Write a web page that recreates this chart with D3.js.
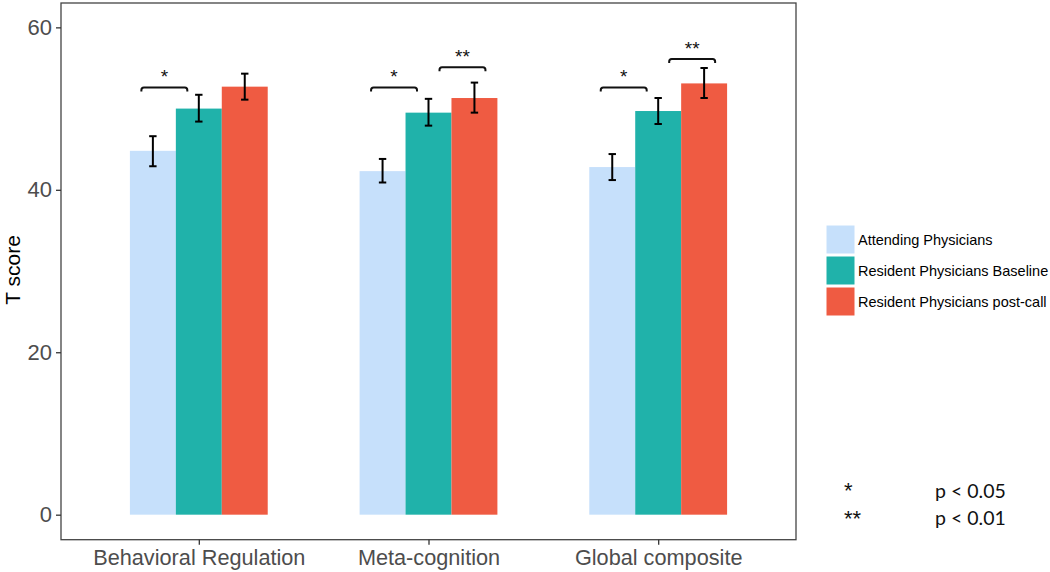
<!DOCTYPE html>
<html><head><meta charset="utf-8">
<script src="https://cdn.jsdelivr.net/npm/d3@7"></script>
<style>body{margin:0;background:#fff;} svg{display:block;}</style>
</head><body>
<svg id="chart" width="1050" height="572"></svg>
<script>
const categories = ["Behavioral Regulation", "Meta-cognition", "Global composite"];
const groups = ["Attending Physicians", "Resident Physicians Baseline", "Resident Physicians post-call"];
const colors = ["#C6E0FB", "#20B2AA", "#EF5B42"];

const attending   = [44.8, 42.3, 42.8];
const attendingLo = [42.9, 40.9, 41.2];
const attendingHi = [46.6, 43.8, 44.4];
const baseline    = [50.0, 49.5, 49.7];
const baselineLo  = [48.4, 47.9, 48.1];
const baselineHi  = [51.7, 51.2, 51.3];
const postcall    = [52.7, 51.3, 53.1];
const postcallLo  = [51.1, 49.5, 51.3];
const postcallHi  = [54.3, 53.2, 55.0];

const yTicks = [0, 20, 40, 60];

// significance brackets
const sigCategory = [0, 1, 1, 2, 2];
const sigFrom     = [0, 0, 1, 0, 1];
const sigTo       = [1, 1, 2, 1, 2];
const sigY        = [52.6, 52.6, 55.1, 52.6, 56.1];
const sigLabel    = ["*", "*", "**", "*", "**"];

const noteSymbols = ["*", "**"];
const noteTexts = ["p < 0.05", "p < 0.01"];

const seriesVals = [attending, baseline, postcall];
const seriesLo = [attendingLo, baselineLo, postcallLo];
const seriesHi = [attendingHi, baselineHi, postcallHi];

const svg = d3.select("#chart");
const L = 61, R = 796, T = 3, B = 539.7;

const x = d3.scalePoint().domain(categories).range([L, R]).padding(0.6);
const step = x.step();
const dodge = d3.scaleBand().domain(groups).range([-step * 0.3, step * 0.3]);
const y = d3.scaleLinear().domain([-3.08, 63.0]).range([B, T]);

// bars
const rows = [];
categories.forEach((c, i) => groups.forEach((g, j) => rows.push({
  c, g, j, v: seriesVals[j][i], lo: seriesLo[j][i], hi: seriesHi[j][i]
})));

svg.append("g").selectAll("rect").data(rows).join("rect")
  .attr("x", d => x(d.c) + dodge(d.g))
  .attr("width", dodge.bandwidth())
  .attr("y", d => y(d.v))
  .attr("height", d => y(0) - y(d.v))
  .attr("fill", d => colors[d.j]);

// error bars
const eb = svg.append("g").attr("stroke", "#000").attr("stroke-width", 2).attr("fill", "none");
rows.forEach(d => {
  const cx = x(d.c) + dodge(d.g) + dodge.bandwidth() / 2;
  const cw = 3.7;
  eb.append("line").attr("x1", cx).attr("x2", cx).attr("y1", y(d.lo)).attr("y2", y(d.hi));
  eb.append("line").attr("x1", cx - cw).attr("x2", cx + cw).attr("y1", y(d.lo)).attr("y2", y(d.lo));
  eb.append("line").attr("x1", cx - cw).attr("x2", cx + cw).attr("y1", y(d.hi)).attr("y2", y(d.hi));
});

// significance brackets
const sg = svg.append("g");
sigLabel.forEach((lab, k) => {
  const c = categories[sigCategory[k]];
  const shift = sigFrom[k] === 0 ? -11.5 : 11;
  const x1 = x(c) + dodge(groups[sigFrom[k]]) + dodge.bandwidth() / 2 + shift;
  const x2 = x(c) + dodge(groups[sigTo[k]]) + dodge.bandwidth() / 2 + shift;
  const yy = y(sigY[k]);
  const r = 2.5;
  sg.append("path")
    .attr("d", `M${x1},${yy + 4} L${x1},${yy + r} Q${x1},${yy} ${x1 + r},${yy} L${x2 - r},${yy} Q${x2},${yy} ${x2},${yy + r} L${x2},${yy + 4}`)
    .attr("fill", "none").attr("stroke", "#111").attr("stroke-width", 2);
  sg.append("text").attr("x", (x1 + x2) / 2).attr("y", yy - 4)
    .attr("text-anchor", "middle")
    .style("font-family", "Liberation Sans, Arial, sans-serif").style("font-size", "19px")
    .attr("fill", "#111").text(lab);
});

// panel border
svg.append("rect").attr("x", L).attr("y", T).attr("width", R - L).attr("height", B - T)
  .attr("fill", "none").attr("stroke", "#444").attr("stroke-width", 1.3);

// axes
const yAxis = svg.append("g").attr("transform", `translate(${L},0)`)
  .call(d3.axisLeft(y).tickValues(yTicks).tickSize(5).tickPadding(4));
yAxis.select(".domain").remove();
yAxis.selectAll(".tick line").attr("stroke", "#333").attr("stroke-width", 1.3);
yAxis.selectAll("text").attr("fill", "#4D4D4D")
  .style("font-family", "Liberation Sans, Arial, sans-serif").style("font-size", "22px");

const xAxis = svg.append("g").attr("transform", `translate(0,${B})`)
  .call(d3.axisBottom(x).tickSize(5).tickPadding(5));
xAxis.select(".domain").remove();
xAxis.selectAll(".tick line").attr("stroke", "#333").attr("stroke-width", 1.3);
xAxis.selectAll("text").attr("fill", "#4D4D4D")
  .style("font-family", "Liberation Sans, Arial, sans-serif").style("font-size", "21.7px");

// y title
svg.append("text").attr("transform", "translate(20,270) rotate(-90)")
  .attr("text-anchor", "middle")
  .style("font-family", "Liberation Sans, Arial, sans-serif").style("font-size", "21px")
  .attr("fill", "#000").text("T score");

// legend
const lg = svg.append("g").attr("transform", "translate(826,225)");
groups.forEach((g, j) => {
  lg.append("rect").attr("x", 0).attr("y", j * 31).attr("width", 29).attr("height", 29)
    .attr("fill", colors[j]).attr("stroke", "#fff").attr("stroke-width", 1);
  lg.append("text").attr("x", 32).attr("y", j * 31 + 14.5).attr("dy", "0.35em")
    .style("font-family", "Liberation Sans, Arial, sans-serif").style("font-size", "14.5px")
    .attr("fill", "#000").text(g);
});

// footnote
const fn = svg.append("g");
noteSymbols.forEach((s, k) => {
  fn.append("text").attr("x", 844).attr("y", 498 + k * 28)
    .style("font-family", "Liberation Sans, Arial, sans-serif").style("font-size", "22px")
    .attr("fill", "#111").text(s);
  fn.append("text").attr("x", 935).attr("y", 498 + k * 27)
    .style("font-family", "Lato, sans-serif").style("font-size", "19.5px")
    .attr("fill", "#111").text(noteTexts[k]);
});
</script>
</body></html>
